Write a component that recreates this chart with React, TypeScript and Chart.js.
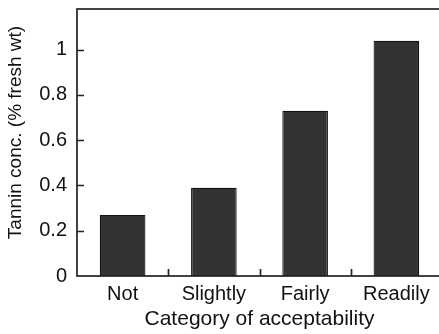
import React, { useEffect, useRef } from "react";
import { Chart, registerables } from "chart.js";

Chart.register(...registerables);

// Tannin concentration by category of acceptability
const categories = ["Not", "Slightly", "Fairly", "Readily"];
const tanninConc = [0.27, 0.39, 0.73, 1.04];
const yTickValues = [0, 0.2, 0.4, 0.6, 0.8, 1];
const yMax = 1.18;
const xTitle = "Category of acceptability";
const yTitle = "Tannin conc. (% fresh wt)";

const FONT = "'Liberation Sans', Arial, Helvetica, sans-serif";
const INK = "#111";

// Boxed frame with short inward tick marks, plus the rotated y-axis title
const frameTicks = {
  id: "frameTicks",
  afterDatasetsDraw(chart: any) {
    const { ctx, chartArea: a, scales } = chart;
    const xs = scales.x;
    const ys = scales.y;
    ctx.save();
    ctx.strokeStyle = "#222";
    ctx.lineWidth = 1.7;
    ctx.strokeRect(a.left, a.top, a.right - a.left, a.bottom - a.top);
    ctx.beginPath();
    for (const t of ys.ticks) {
      if (t.value === 0) continue;
      const py = Math.round(ys.getPixelForValue(t.value)) + 0.5;
      ctx.moveTo(a.left, py);
      ctx.lineTo(a.left + 7, py);
    }
    for (let i = 0; i < categories.length - 1; i++) {
      const px = Math.round((xs.getPixelForValue(i) + xs.getPixelForValue(i + 1)) / 2) + 0.5;
      ctx.moveTo(px, a.bottom);
      ctx.lineTo(px, a.bottom - 7);
    }
    ctx.stroke();

    ctx.translate(16, (a.top + a.bottom) / 2 - 10);
    ctx.rotate(-Math.PI / 2);
    ctx.font = `19px ${FONT}`;
    ctx.textAlign = "center";
    ctx.textBaseline = "middle";
    ctx.fillStyle = INK;
    ctx.fillText(yTitle, 0, 0);
    ctx.restore();
  },
};

export default function App() {
  const canvasRef = useRef<HTMLCanvasElement | null>(null);

  useEffect(() => {
    if (!canvasRef.current) return;
    const chart = new Chart(canvasRef.current, {
      type: "bar",
      data: {
        labels: categories,
        datasets: [
          {
            data: tanninConc,
            backgroundColor: "#333333",
            borderColor: "#111111",
            borderWidth: 1.2,
            categoryPercentage: 1,
            barPercentage: 0.5,
          },
        ],
      },
      options: {
        responsive: false,
        animation: false,
        devicePixelRatio: 1,
        layout: { padding: { top: 9, right: 4, left: 0, bottom: 0 } },
        plugins: {
          legend: { display: false },
          tooltip: { enabled: false },
        },
        scales: {
          x: {
            grid: { display: false, drawTicks: false },
            border: { display: false },
            ticks: {
              color: INK,
              padding: 6,
              font: { family: FONT, size: 20 },
            },
            title: {
              display: true,
              text: xTitle,
              color: INK,
              padding: { top: 0, bottom: 2 },
              font: { family: FONT, size: 21 },
            },
            afterFit: (s: any) => {
              s.height = 58;
              s.paddingLeft = 0;
              s.paddingRight = 0;
            },
          },
          y: {
            min: 0,
            max: yMax,
            grid: { display: false, drawTicks: false },
            border: { display: false },
            ticks: {
              color: INK,
              padding: 10,
              includeBounds: false,
              font: { family: FONT, size: 20 },
              callback: (v: any) => String(Number(v)),
            },
            afterBuildTicks: (s: any) => {
              s.ticks = yTickValues.map((value) => ({ value }));
            },
            afterFit: (s: any) => {
              s.width = 77;
              s.paddingTop = 0;
              s.paddingBottom = 0;
            },
          },
        },
      },
      plugins: [frameTicks],
    });
    return () => chart.destroy();
  }, []);

  return (
    <div
      style={{
        position: "fixed",
        left: 0,
        top: 0,
        width: 439,
        height: 334,
        overflow: "hidden",
        background: "#fff",
      }}
    >
      <canvas ref={canvasRef} width={446} height={334} style={{ display: "block" }} />
    </div>
  );
}
